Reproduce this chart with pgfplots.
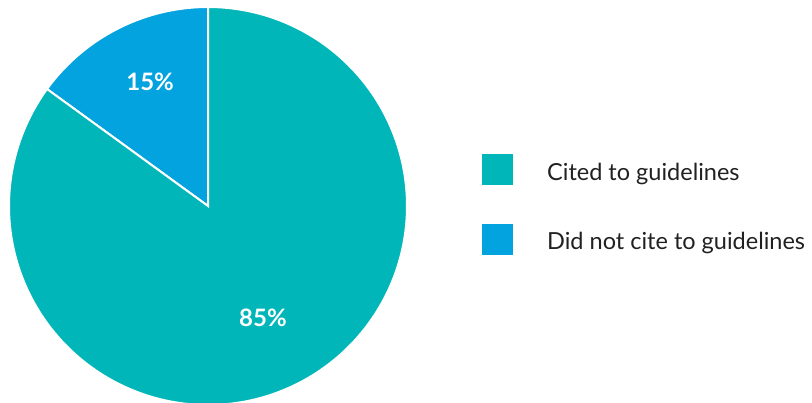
\documentclass[border=0pt]{standalone}
\usepackage{pgfplots}
\pgfplotsset{compat=1.18}
\usepackage{pgfplotstable}
\usepackage{fontspec}
\setmainfont{Lato}
\definecolor{cteal}{HTML}{00B6B8}
\definecolor{cblue}{HTML}{03A3DF}
\pgfplotstableread{
label value
Cited 85
Didnot 15
}\piedata
\begin{document}
\begin{tikzpicture}[x=1pt,y=1pt]
\useasboundingbox (0,0) rectangle (812,402);
\clip (0,0) rectangle (812,402);
\pgfplotstablegetelem{0}{value}\of\piedata \let\vA\pgfplotsretval
\pgfplotstablegetelem{1}{value}\of\piedata \let\vB\pgfplotsretval
\pgfmathsetmacro{\aStart}{90}
\pgfmathsetmacro{\aMid}{90+3.6*\vB}
\pgfmathsetmacro{\aEnd}{\aMid+3.6*\vA}
\begin{axis}[
  at={(208pt,196pt)}, anchor=center,
  width=398pt, height=398pt, scale only axis,
  xmin=-1, xmax=1, ymin=-1, ymax=1,
  hide axis, clip=false,
]
\addplot[fill=cblue, draw=white, line width=2pt, domain=\aStart:\aMid, samples=60, variable=\t]
  ({cos(\t)},{sin(\t)}) -- (axis cs:0,0) -- cycle;
\addplot[fill=cteal, draw=white, line width=2pt, domain=\aMid:\aEnd, samples=240, variable=\t]
  ({cos(\t)},{sin(\t)}) -- (axis cs:0,0) -- cycle;
\node[text=white, font=\fontsize{24}{28}\selectfont\bfseries] at (axis cs:-0.291,0.623) {\vB\%};
\node[text=white, font=\fontsize{24}{28}\selectfont\bfseries] at (axis cs:0.276,-0.563) {\vA\%};
\end{axis}
\fill[cteal] (482,217) rectangle (513,248);
\fill[cblue] (482,147) rectangle (513,178);
\node[anchor=base west, inner sep=0pt, font=\fontsize{23.5}{28}\selectfont, text=black!87] at (547,221) {Cited to guidelines};
\node[anchor=base west, inner sep=0pt, font=\fontsize{23.5}{28}\selectfont, text=black!87] at (547,152) {Did not cite to guidelines};
\end{tikzpicture}
\end{document}
